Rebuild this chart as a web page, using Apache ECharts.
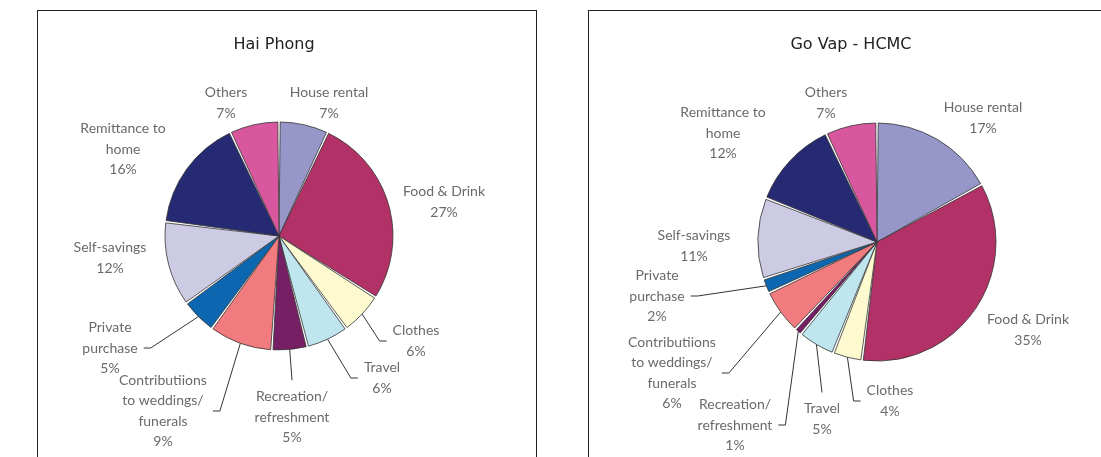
<!DOCTYPE html>
<html lang="en">
<head>
    <meta charset="UTF-8">
    <title>Household expenditure - Hai Phong / Go Vap</title>
    <script src="https://cdn.jsdelivr.net/npm/echarts@6/dist/echarts.min.js"></script>
    <style>
        body {
            margin: 0;
            background: #fff;
            width: 1101px;
            height: 457px;
            overflow: hidden;
            position: relative;
        }
        .panel {
            position: absolute;
            top: 10px;
            height: 470px;
            border: 1px solid #222;
            box-sizing: border-box;
        }
        #haiPhong { left: 37px; width: 500px; }
        #goVap { left: 588px; width: 530px; }
    </style>
</head>
<body>
<div id="haiPhong" class="panel"></div>
<div id="goVap" class="panel"></div>

<script>
    // spending categories, clockwise from 12 o'clock
    const categories = [
        'House rental', 'Food & Drink', 'Clothes', 'Travel', 'Recreation/\nrefreshment',
        'Contributiions\nto weddings/\nfunerals', 'Private\npurchase', 'Self-savings',
        'Remittance to\nhome', 'Others'
    ];
    const haiPhongValues = [7, 27, 6, 6, 5, 9, 5, 12, 16, 7];
    const goVapValues = [17, 35, 4, 5, 1, 6, 2, 11, 12, 7];
    const sliceColors = ['#9696c8', '#b23267', '#fdfacf', '#bfe6ee', '#761f65',
        '#f27b80', '#0c66b0', '#cdcbe4', '#262a72', '#d8579f'];

    // where each label block sits inside its panel (centre of text)
    const haiPhongLabelPos = [[291, 92], [406, 191], [378, 330], [344, 367], [254, 406],
        [125, 400], [72, 337], [72, 247], [85, 138], [188, 92]];
    const goVapLabelPos = [[394, 107], [439, 319], [301, 390], [233, 408], [146, 414],
        [83, 362], [68, 285], [105, 235], [134, 122], [237, 92]];
    // which side of the label its leader line joins (null = no line)
    const haiPhongLineSide = [null, null, 'left', 'left', 'top', 'right', 'right', null, null, null];
    const goVapLineSide = [null, null, 'left', 'top', 'right', 'right', 'right', null, null, null];

    function renderPie(domId, title, values, labelPos, lineSide, titleX, center, radius) {
        const chart = echarts.init(document.getElementById(domId));
        const total = values.reduce((a, b) => a + b, 0);
        const data = categories.map((name, i) => ({
            name: name,
            value: values[i],
            itemStyle: { color: sliceColors[i] },
            labelLine: { show: lineSide[i] !== null }
        }));

        // leader line: from the slice rim at its mid angle to the chosen label side
        function leader(i, rect) {
            const side = lineSide[i];
            if (!side) return undefined;
            let before = 0;
            for (let k = 0; k < i; k++) before += values[k];
            const theta = (before + values[i] / 2) / total * Math.PI * 2;
            const rim = [center[0] + radius * Math.sin(theta), center[1] - radius * Math.cos(theta)];
            const [lx, ly] = labelPos[i];
            const gap = 6, len2 = 7;
            if (side === 'top') {
                const end = [lx, ly - rect.height / 2 - gap];
                return [rim, [(rim[0] + end[0]) / 2, (rim[1] + end[1]) / 2], end];
            }
            const dir = side === 'right' ? 1 : -1;
            const end = [lx + dir * (rect.width / 2 + gap), ly];
            return [rim, [end[0] + dir * len2, ly], end];
        }

        chart.setOption({
            animation: false,
            title: {
                text: title,
                left: titleX,
                top: 21,
                textAlign: 'center',
                textStyle: {
                    fontFamily: 'DejaVu Sans',
                    fontSize: 16,
                    fontWeight: 'normal',
                    color: '#222'
                }
            },
            series: [{
                type: 'pie',
                center: center,
                radius: radius,
                startAngle: 90,
                padAngle: 1.2,
                data: data,
                itemStyle: {
                    borderColor: '#333',
                    borderWidth: 0.8
                },
                label: {
                    fontFamily: 'Lato',
                    fontSize: 14,
                    color: '#6a6a6a',
                    lineHeight: 20.5,
                    formatter: p => p.name + '\n' + p.value + '%'
                },
                labelLine: {
                    lineStyle: { color: '#333', width: 1 }
                },
                labelLayout: p => ({
                    x: labelPos[p.dataIndex][0],
                    y: labelPos[p.dataIndex][1],
                    align: 'center',
                    verticalAlign: 'middle',
                    labelLinePoints: leader(p.dataIndex, p.labelRect)
                })
            }]
        });
    }

    renderPie('haiPhong', 'Hai Phong', haiPhongValues, haiPhongLabelPos, haiPhongLineSide, 231, [241, 225], 114);
    renderPie('goVap', 'Go Vap - HCMC', goVapValues, goVapLabelPos, goVapLineSide, 257, [288, 231], 119);
</script>
</body>
</html>
